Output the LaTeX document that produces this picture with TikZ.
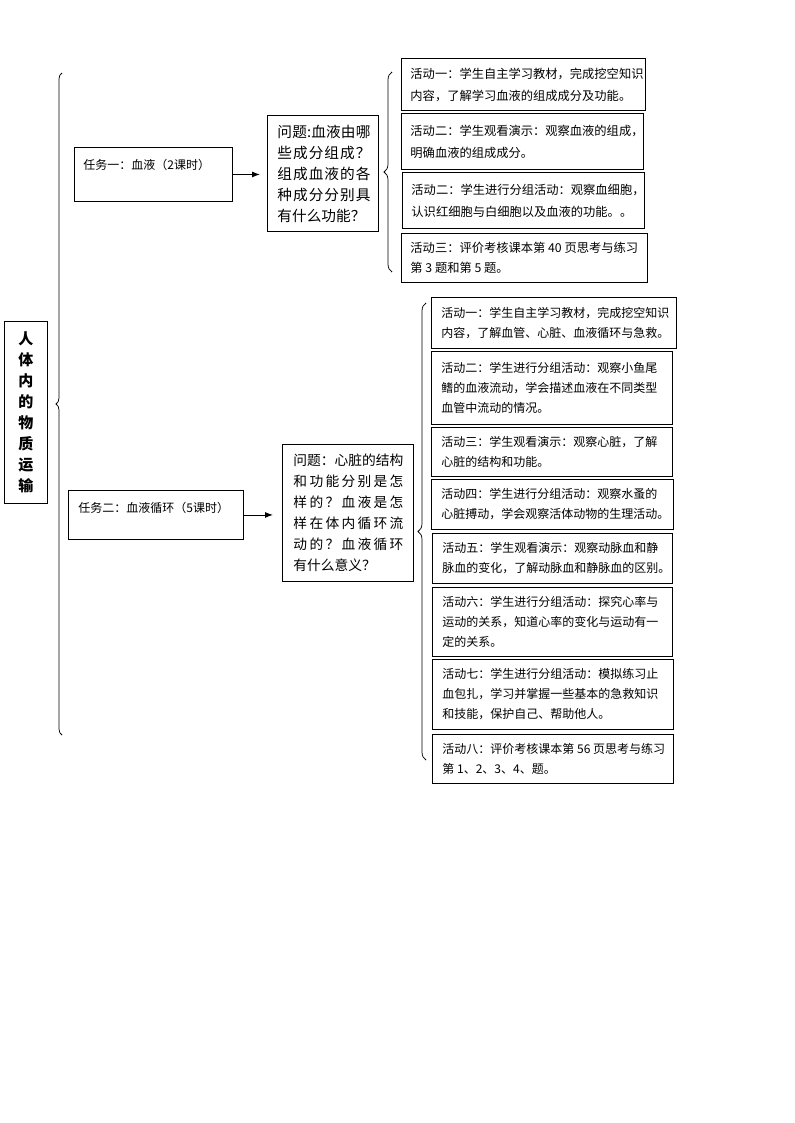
\documentclass[tikz,border=0pt]{standalone}
\usepackage{fontspec}
\setmainfont{Noto Sans CJK SC}
\usetikzlibrary{decorations.pathreplacing,arrows.meta}
\makeatletter
\def\jl#1{\jl@a#1\jl@end}
\def\jl@end{}
\def\jl@a#1{#1\futurelet\jl@n\jl@b}
\def\jl@b{\ifx\jl@n\jl@end\expandafter\@gobble\else\hfil\expandafter\jl@a\fi}
\makeatother
\newcommand\jline[2]{\leavevmode\hbox to #1{\jl{#2}}}
% width, height, vertical position, body
\newcommand\boxt[4]{\parbox[c][#2][#3]{#1}{\parindent=0pt\rightskip=0pt plus 1fil\relax #4\par}}
\newcommand\afont{\fontsize{9.2pt}{16.5pt}\selectfont\leftskip=6.75pt\relax}
\newcommand\bfontx{\fontsize{9pt}{15pt}\selectfont\leftskip=7.5pt\relax}
\begin{document}
\begin{tikzpicture}[x=0.75pt,y=-0.75pt,
  bx/.style={draw, line width=0.7pt, anchor=north west, inner sep=0pt},
  arr/.style={-{Latex[length=6pt,width=4.5pt]}, line width=0.7pt},
  brc/.style={decorate, decoration={brace, amplitude=#1}, line width=0.55pt}]
\useasboundingbox (0,0) rectangle (794,1123);

% title
\node[bx] (title) at (4,321) {\parbox[c][136.5pt][c]{32.25pt}{\centering\fontsize{11.25pt}{15.75pt}\selectfont\bfseries 人\\体\\内\\的\\物\\质\\运\\输}};

% big brace
\coordinate (bbBot) at (62,735);
\coordinate (bbTop) at (62,73);
\draw[brc=4.5pt] (bbBot) -- (bbTop);

% task one
\node[bx] (t1) at (74,147) {\boxt{118.5pt}{40.5pt}{t}{\vspace*{8.5pt}\fontsize{9pt}{14pt}\selectfont\leftskip=6.75pt 任务一：血液（2课时）}};
\node[bx] (q1) at (267,115) {\boxt{83.25pt}{87pt}{c}{\fontsize{11pt}{15.75pt}\selectfont\leftskip=7.5pt
  \jline{69.75pt}{问题:血液由哪}\\
  \jline{69.75pt}{些成分组成？}\\
  \jline{69.75pt}{组成血液的各}\\
  \jline{69.75pt}{种成分分别具}\\
  有什么功能？}};
\draw[arr, shorten >=5.25pt] (t1.east) -- (t1.east -| q1.west);

% brace 2
\coordinate (b2Bot) at (392,272);
\coordinate (b2Top) at (392,72);
\draw[brc=6pt] (b2Bot) -- (b2Top);

\node[bx] (a1) at (401,58) {\boxt{183pt}{39pt}{c}{\afont 活动一：学生自主学习教材，完成挖空知识\\内容，了解学习血液的组成成分及功能。}};
\node[bx] (a2) at (401,113) {\boxt{181.5pt}{42pt}{c}{\afont 活动二：学生观看演示：观察血液的组成，\\明确血液的组成成分。}};
\node[bx] (a3) at (402,172) {\boxt{181.5pt}{42pt}{c}{\afont 活动二：学生进行分组活动：观察血细胞，\\认识红细胞与白细胞以及血液的功能。。}};
\node[bx] (a4) at (401,233) {\boxt{184.5pt}{36.75pt}{c}{\fontsize{9.2pt}{15pt}\selectfont\leftskip=6.75pt 活动三：评价考核课本第 40 页思考与练习\\第 3 题和第 5 题。}};

% task two
\node[bx] (t2) at (68,490) {\boxt{131.25pt}{36.75pt}{t}{\vspace*{8.5pt}\fontsize{9pt}{14pt}\selectfont\leftskip=7.5pt 任务二：血液循环（5课时）}};
\node[bx] (q2) at (282,444) {\boxt{98.25pt}{102.75pt}{c}{\fontsize{10.3pt}{15.75pt}\selectfont\leftskip=8.25pt
  \jline{82.5pt}{问题：心脏的结构}\\
  \jline{82.5pt}{和功能分别是怎}\\
  \jline{82.5pt}{样的？血液是怎}\\
  \jline{82.5pt}{样在体内循环流}\\
  \jline{82.5pt}{动的？血液循环}\\
  有什么意义？}};
\draw[arr, shorten >=6.75pt] (t2.east) -- (t2.east -| q2.west);

% brace 3
\coordinate (b3Bot) at (426,760);
\coordinate (b3Top) at (426,303);
\draw[brc=6pt] (b3Bot) -- (b3Top);

\node[bx] (c1) at (431,297) {\boxt{183.75pt}{38.25pt}{c}{\bfontx 活动一：学生自主学习教材，完成挖空知识\\内容，了解血管、心脏、血液循环与急救。}};
\node[bx] (c2) at (431,351) {\boxt{180.75pt}{54.75pt}{c}{\bfontx 活动二：学生进行分组活动：观察小鱼尾\\鳍的血液流动，学会描述血液在不同类型\\血管中流动的情况。}};
\node[bx] (c3) at (431,427) {\boxt{180.75pt}{36.75pt}{c}{\bfontx 活动三：学生观看演示：观察心脏，了解\\心脏的结构和功能。}};
\node[bx] (c4) at (431,479) {\boxt{181.5pt}{37.5pt}{c}{\bfontx 活动四：学生进行分组活动：观察水蚤的\\心脏搏动，学会观察活体动物的生理活动。}};
\node[bx] (c5) at (432,533) {\boxt{180pt}{37.5pt}{c}{\bfontx 活动五：学生观看演示：观察动脉血和静\\脉血的变化，了解动脉血和静脉血的区别。}};
\node[bx] (c6) at (432,587) {\boxt{180pt}{51.75pt}{c}{\bfontx 活动六：学生进行分组活动：探究心率与\\运动的关系，知道心率的变化与运动有一\\定的关系。}};
\node[bx] (c7) at (432,659) {\boxt{180.75pt}{52.5pt}{c}{\bfontx 活动七：学生进行分组活动：模拟练习止\\血包扎，学习并掌握一些基本的急救知识\\和技能，保护自己、帮助他人。}};
\node[bx] (c8) at (432,734) {\boxt{180.75pt}{36.75pt}{c}{\bfontx 活动八：评价考核课本第 56 页思考与练习\\第 1、2、3、4、题。}};
\end{tikzpicture}
\end{document}
